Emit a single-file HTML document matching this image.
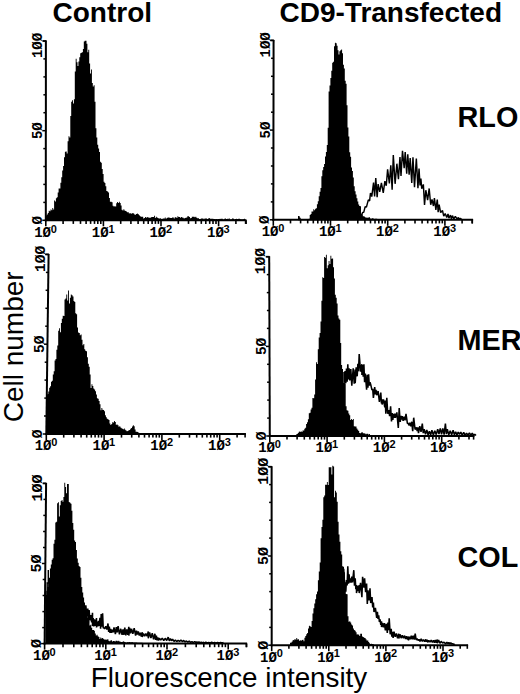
<!DOCTYPE html>
<html><head><meta charset="utf-8"><style>
html,body{margin:0;padding:0;background:#fff;}
svg{display:block;}
.tl{stroke:none;font-family:"Liberation Mono",monospace;font-weight:bold;font-size:14px;fill:#000;}
.ts{stroke:none;font-family:"Liberation Sans",sans-serif;font-weight:bold;font-size:11px;fill:#000;}
.big{font-family:"Liberation Sans",sans-serif;font-weight:bold;font-size:28px;fill:#000;}
.lab{font-family:"Liberation Sans",sans-serif;font-size:28px;fill:#000;}
</style></head><body>
<svg width="520" height="694" viewBox="0 0 520 694">
<rect width="520" height="694" fill="#fff"/>
<g id="hist">
<polygon points="46.00,220.50 46.00,215.52 46.90,215.52 46.90,214.60 47.80,214.60 47.80,213.02 48.70,213.02 48.70,210.68 49.60,210.68 49.60,211.13 50.50,211.13 50.50,209.58 51.40,209.58 51.40,210.18 52.30,210.18 52.30,208.03 53.20,208.03 53.20,209.51 54.10,209.51 54.10,200.57 55.00,200.57 55.00,201.56 55.90,201.56 55.90,198.30 56.80,198.30 56.80,197.29 57.70,197.29 57.70,192.57 58.60,192.57 58.60,188.41 59.50,188.41 59.50,188.56 60.40,188.56 60.40,182.83 61.30,182.83 61.30,177.30 62.20,177.30 62.20,170.51 63.10,170.51 63.10,166.11 64.00,166.11 64.00,157.24 64.90,157.24 64.90,151.81 65.80,151.81 65.80,151.51 66.70,151.51 66.70,153.45 67.60,153.45 67.60,141.20 68.50,141.20 68.50,136.23 69.40,136.23 69.40,137.49 70.30,137.49 70.30,116.04 71.20,116.04 71.20,101.77 72.10,101.77 72.10,100.29 73.00,100.29 73.00,103.47 73.90,103.47 73.90,99.28 74.80,99.28 74.80,71.39 75.70,71.39 75.70,58.68 76.60,58.68 76.60,62.13 77.50,62.13 77.50,65.88 78.40,65.88 78.40,61.45 79.30,61.45 79.30,57.25 80.20,57.25 80.20,53.22 81.10,53.22 81.10,52.78 82.00,52.78 82.00,52.14 82.90,52.14 82.90,49.05 83.80,49.05 83.80,41.52 84.70,41.52 84.70,40.80 85.60,40.80 85.60,40.80 86.50,40.80 86.50,43.70 87.40,43.70 87.40,52.27 88.30,52.27 88.30,49.72 89.20,49.72 89.20,63.53 90.10,63.53 90.10,73.54 91.00,73.54 91.00,69.46 91.90,69.46 91.90,82.92 92.80,82.92 92.80,86.54 93.70,86.54 93.70,85.15 94.60,85.15 94.60,101.63 95.50,101.63 95.50,128.25 96.40,128.25 96.40,137.46 97.30,137.46 97.30,144.71 98.20,144.71 98.20,148.54 99.10,148.54 99.10,152.07 100.00,152.07 100.00,161.68 100.90,161.68 100.90,162.67 101.80,162.67 101.80,169.00 102.70,169.00 102.70,174.00 103.60,174.00 103.60,181.70 104.50,181.70 104.50,183.05 105.40,183.05 105.40,186.24 106.30,186.24 106.30,191.10 107.20,191.10 107.20,191.41 108.10,191.41 108.10,192.50 109.00,192.50 109.00,198.10 109.90,198.10 109.90,201.76 110.80,201.76 110.80,201.80 111.70,201.80 111.70,202.28 112.60,202.28 112.60,205.85 113.50,205.85 113.50,206.57 114.40,206.57 114.40,206.30 115.30,206.30 115.30,206.51 116.20,206.51 116.20,203.20 117.10,203.20 117.10,202.01 118.00,202.01 118.00,203.04 118.90,203.04 118.90,201.70 119.80,201.70 119.80,202.96 120.70,202.96 120.70,205.47 121.60,205.47 121.60,209.83 122.50,209.83 122.50,210.38 123.40,210.38 123.40,209.33 124.30,209.33 124.30,210.44 125.20,210.44 125.20,210.89 126.10,210.89 126.10,211.52 127.00,211.52 127.00,212.13 127.90,212.13 127.90,212.21 128.80,212.21 128.80,213.49 129.70,213.49 129.70,212.94 130.60,212.94 130.60,213.68 131.50,213.68 131.50,213.62 132.40,213.62 132.40,213.03 133.30,213.03 133.30,213.58 134.20,213.58 134.20,214.43 135.10,214.43 135.10,214.85 136.00,214.85 136.00,213.88 136.90,213.88 136.90,213.56 137.80,213.56 137.80,213.90 138.70,213.90 138.70,215.08 139.60,215.08 139.60,215.97 140.50,215.97 140.50,216.86 141.40,216.86 141.40,216.70 142.30,216.70 142.30,216.85 143.20,216.85 143.20,218.38 144.10,218.38 144.10,217.92 145.00,217.92 145.00,216.94 145.90,216.94 145.90,217.81 146.80,217.81 146.80,217.00 147.70,217.00 147.70,217.61 148.60,217.61 148.60,217.44 149.50,217.44 149.50,218.02 150.40,218.02 150.40,217.39 151.30,217.39 151.30,217.10 152.20,217.10 152.20,217.09 153.10,217.09 153.10,216.99 154.00,216.99 154.00,215.84 154.90,215.84 154.90,217.96 155.80,217.96 155.80,216.71 156.70,216.71 156.70,217.44 157.60,217.44 157.60,218.00 158.50,218.00 158.50,218.57 159.40,218.57 159.40,218.43 160.30,218.43 160.30,218.36 161.20,218.36 161.20,219.11 162.10,219.11 162.10,218.81 163.00,218.81 163.00,218.49 163.90,218.49 163.90,218.59 164.80,218.59 164.80,217.60 165.70,217.60 165.70,218.74 166.60,218.74 166.60,218.11 167.50,218.11 167.50,217.44 168.40,217.44 168.40,217.56 169.30,217.56 169.30,217.70 170.20,217.70 170.20,218.06 171.10,218.06 171.10,217.98 172.00,217.98 172.00,217.46 172.90,217.46 172.90,217.44 173.80,217.44 173.80,218.53 174.70,218.53 174.70,217.26 175.60,217.26 175.60,217.21 176.50,217.21 176.50,217.96 177.40,217.96 177.40,216.25 178.30,216.25 178.30,217.07 179.20,217.07 179.20,217.10 180.10,217.10 180.10,217.67 181.00,217.67 181.00,216.99 181.90,216.99 181.90,217.38 182.80,217.38 182.80,217.82 183.70,217.82 183.70,218.51 184.60,218.51 184.60,218.06 185.50,218.06 185.50,217.85 186.40,217.85 186.40,217.45 187.30,217.45 187.30,216.32 188.20,216.32 188.20,216.23 189.10,216.23 189.10,216.96 190.00,216.96 190.00,218.32 190.90,218.32 190.90,218.05 191.80,218.05 191.80,216.78 192.70,216.78 192.70,216.75 193.60,216.75 193.60,216.87 194.50,216.87 194.50,217.23 195.40,217.23 195.40,216.72 196.30,216.72 196.30,217.85 197.20,217.85 197.20,218.23 198.10,218.23 198.10,218.23 199.00,218.23 199.00,218.98 199.90,218.98 199.90,219.04 200.80,219.04 200.80,218.49 201.70,218.49 201.70,218.57 202.60,218.57 202.60,218.43 203.50,218.43 203.50,219.42 204.40,219.42 204.40,218.45 205.30,218.45 205.30,218.57 206.20,218.57 206.20,218.38 207.10,218.38 207.10,218.99 208.00,218.99 208.00,218.53 208.90,218.53 208.90,218.00 209.80,218.00 209.80,218.85 210.70,218.85 210.70,218.82 211.60,218.82 211.60,218.69 212.50,218.69 212.50,218.80 213.40,218.80 213.40,218.89 214.30,218.89 214.30,218.94 215.20,218.94 215.20,219.25 216.10,219.25 216.10,219.09 217.00,219.09 217.00,219.22 217.90,219.22 217.90,219.10 218.80,219.10 218.80,219.04 219.70,219.04 219.70,218.80 220.60,218.80 220.60,218.88 221.50,218.88 221.50,218.38 222.40,218.38 222.40,219.31 223.30,219.31 223.30,219.67 224.20,219.67 224.20,218.86 225.10,218.86 225.10,218.55 226.00,218.55 226.00,219.04 226.90,219.04 226.90,218.81 227.80,218.81 227.80,219.28 228.70,219.28 228.70,218.34 229.60,218.34 229.60,219.55 230.50,219.55 230.50,219.49 231.40,219.49 231.40,219.13 232.30,219.13 232.30,218.20 233.20,218.20 233.20,218.87 234.10,218.87 234.10,219.56 235.00,219.56 235.00,219.06 235.90,219.06 235.90,218.69 236.80,218.69 236.80,219.08 237.70,219.08 237.70,219.04 238.60,219.04 238.60,218.60 239.50,218.60 239.50,219.03 240.40,219.03 240.40,219.40 241.30,219.40 241.30,219.41 242.20,219.41 242.20,219.45 243.10,219.45 243.10,219.21 244.00,219.21 244.00,218.86 244.90,218.86 244.90,219.09 245.00,219.09 245.00,220.50" fill="#000"/>
<polygon points="298.00,220.20 298.00,216.09 298.90,216.09 298.90,216.21 299.80,216.21 299.80,217.83 300.70,217.83 300.70,219.01 301.60,219.01 301.60,219.03 302.50,219.03 302.50,219.05 303.40,219.05 303.40,219.07 304.30,219.07 304.30,219.09 305.20,219.09 305.20,219.11 306.10,219.11 306.10,219.13 307.00,219.13 307.00,219.15 307.90,219.15 307.90,219.16 308.80,219.16 308.80,218.83 309.70,218.83 309.70,215.06 310.60,215.06 310.60,214.08 311.50,214.08 311.50,211.51 312.40,211.51 312.40,211.50 313.30,211.50 313.30,209.27 314.20,209.27 314.20,210.35 315.10,210.35 315.10,208.78 316.00,208.78 316.00,208.24 316.90,208.24 316.90,204.25 317.80,204.25 317.80,201.36 318.70,201.36 318.70,196.31 319.60,196.31 319.60,191.80 320.50,191.80 320.50,188.05 321.40,188.05 321.40,176.30 322.30,176.30 322.30,170.28 323.20,170.28 323.20,167.04 324.10,167.04 324.10,164.12 325.00,164.12 325.00,156.42 325.90,156.42 325.90,151.88 326.80,151.88 326.80,145.08 327.70,145.08 327.70,127.64 328.60,127.64 328.60,91.56 329.50,91.56 329.50,85.50 330.40,85.50 330.40,78.02 331.30,78.02 331.30,70.77 332.20,70.77 332.20,62.72 333.10,62.72 333.10,61.70 334.00,61.70 334.00,46.28 334.90,46.28 334.90,42.66 335.80,42.66 335.80,43.24 336.70,43.24 336.70,45.70 337.60,45.70 337.60,50.30 338.50,50.30 338.50,54.43 339.40,54.43 339.40,51.32 340.30,51.32 340.30,50.31 341.20,50.31 341.20,49.60 342.10,49.60 342.10,53.36 343.00,53.36 343.00,64.80 343.90,64.80 343.90,68.38 344.80,68.38 344.80,80.70 345.70,80.70 345.70,83.64 346.60,83.64 346.60,105.19 347.50,105.19 347.50,127.46 348.40,127.46 348.40,136.59 349.30,136.59 349.30,152.13 350.20,152.13 350.20,156.80 351.10,156.80 351.10,167.48 352.00,167.48 352.00,171.08 352.90,171.08 352.90,177.57 353.80,177.57 353.80,186.21 354.70,186.21 354.70,191.26 355.60,191.26 355.60,194.42 356.50,194.42 356.50,198.23 357.40,198.23 357.40,201.39 358.30,201.39 358.30,204.53 359.20,204.53 359.20,205.97 360.10,205.97 360.10,206.37 361.00,206.37 361.00,213.87 361.90,213.87 361.90,214.43 362.80,214.43 362.80,216.22 363.70,216.22 363.70,216.15 364.60,216.15 364.60,217.04 365.50,217.04 365.50,217.79 366.40,217.79 366.40,217.62 367.30,217.62 367.30,217.71 368.20,217.71 368.20,217.45 369.10,217.45 369.10,217.18 370.00,217.18 370.00,218.41 370.90,218.41 370.90,218.74 371.80,218.74 371.80,218.19 372.70,218.19 372.70,218.16 373.60,218.16 373.60,218.94 374.50,218.94 374.50,218.71 375.40,218.71 375.40,218.75 376.30,218.75 376.30,218.76 377.20,218.76 377.20,218.94 378.10,218.94 378.10,219.12 379.00,219.12 379.00,219.30 379.90,219.30 379.90,219.48 380.00,219.48 380.00,220.20" fill="#000"/>
<polyline points="360.00,216.57 360.87,217.13 362.58,212.47 363.73,212.35 365.16,206.67 366.44,207.12 368.32,199.94 369.61,200.87 370.46,193.03 371.77,196.60 373.55,182.55 374.61,196.38 375.77,178.00 377.14,197.19 378.14,184.06 379.74,191.77 381.41,182.92 383.26,192.82 384.88,181.10 386.26,185.70 387.61,169.37 389.38,183.39 390.80,165.30 392.14,189.73 393.30,154.94 395.09,183.82 396.88,163.69 398.45,179.26 399.97,157.06 401.00,175.97 402.49,150.72 404.18,168.19 405.20,152.01 406.71,173.71 407.77,154.19 409.14,174.75 410.18,158.16 411.76,182.91 412.97,157.22 414.50,187.13 416.34,158.59 417.94,188.29 419.03,168.66 420.04,185.49 420.89,178.59 421.74,188.79 423.35,184.38 424.53,205.00 425.82,190.22 427.61,200.08 429.18,188.45 430.70,204.78 432.00,199.46 433.44,205.99 434.40,198.14 435.87,209.79 437.28,199.52 438.15,212.15 439.13,204.62 440.63,212.61 442.45,210.45 443.74,216.17 445.19,213.60 446.76,217.47 448.03,214.02 448.88,218.06 450.47,215.12 451.39,218.73 452.45,215.61 453.82,218.94 455.32,216.33 457.11,218.90 458.39,217.64 459.26,219.23 460.26,218.41 461.94,219.49" fill="none" stroke="#000" stroke-width="1.45" stroke-linejoin="bevel"/>
<polygon points="46.50,434.50 46.50,394.65 47.40,394.65 47.40,394.07 48.30,394.07 48.30,391.47 49.20,391.47 49.20,387.80 50.10,387.80 50.10,386.14 51.00,386.14 51.00,381.77 51.90,381.77 51.90,380.68 52.80,380.68 52.80,374.62 53.70,374.62 53.70,371.19 54.60,371.19 54.60,360.56 55.50,360.56 55.50,358.88 56.40,358.88 56.40,349.81 57.30,349.81 57.30,345.62 58.20,345.62 58.20,330.71 59.10,330.71 59.10,328.15 60.00,328.15 60.00,332.14 60.90,332.14 60.90,323.05 61.80,323.05 61.80,318.63 62.70,318.63 62.70,315.65 63.60,315.65 63.60,316.01 64.50,316.01 64.50,299.58 65.40,299.58 65.40,298.60 66.30,298.60 66.30,294.54 67.20,294.54 67.20,300.62 68.10,300.62 68.10,290.50 69.00,290.50 69.00,303.60 69.90,303.60 69.90,297.75 70.80,297.75 70.80,294.51 71.70,294.51 71.70,295.17 72.60,295.17 72.60,296.39 73.50,296.39 73.50,301.05 74.40,301.05 74.40,301.89 75.30,301.89 75.30,313.25 76.20,313.25 76.20,314.13 77.10,314.13 77.10,327.43 78.00,327.43 78.00,332.61 78.90,332.61 78.90,332.94 79.80,332.94 79.80,335.18 80.70,335.18 80.70,334.40 81.60,334.40 81.60,339.78 82.50,339.78 82.50,345.14 83.40,345.14 83.40,344.10 84.30,344.10 84.30,349.23 85.20,349.23 85.20,350.72 86.10,350.72 86.10,351.31 87.00,351.31 87.00,357.24 87.90,357.24 87.90,363.68 88.80,363.68 88.80,366.69 89.70,366.69 89.70,374.56 90.60,374.56 90.60,388.04 91.50,388.04 91.50,384.33 92.40,384.33 92.40,386.03 93.30,386.03 93.30,388.57 94.20,388.57 94.20,389.50 95.10,389.50 95.10,391.31 96.00,391.31 96.00,394.38 96.90,394.38 96.90,398.30 97.80,398.30 97.80,398.87 98.70,398.87 98.70,401.03 99.60,401.03 99.60,404.19 100.50,404.19 100.50,410.34 101.40,410.34 101.40,408.03 102.30,408.03 102.30,409.85 103.20,409.85 103.20,409.88 104.10,409.88 104.10,411.37 105.00,411.37 105.00,415.23 105.90,415.23 105.90,417.21 106.80,417.21 106.80,418.67 107.70,418.67 107.70,419.22 108.60,419.22 108.60,420.07 109.50,420.07 109.50,423.42 110.40,423.42 110.40,425.12 111.30,425.12 111.30,423.99 112.20,423.99 112.20,422.17 113.10,422.17 113.10,422.49 114.00,422.49 114.00,421.09 114.90,421.09 114.90,421.93 115.80,421.93 115.80,424.79 116.70,424.79 116.70,424.62 117.60,424.62 117.60,425.27 118.50,425.27 118.50,426.67 119.40,426.67 119.40,426.23 120.30,426.23 120.30,427.60 121.20,427.60 121.20,428.19 122.10,428.19 122.10,428.87 123.00,428.87 123.00,429.24 123.90,429.24 123.90,428.40 124.80,428.40 124.80,429.72 125.70,429.72 125.70,430.49 126.60,430.49 126.60,431.34 127.50,431.34 127.50,431.11 128.40,431.11 128.40,430.13 129.30,430.13 129.30,429.94 130.20,429.94 130.20,428.74 131.10,428.74 131.10,428.01 132.00,428.01 132.00,426.54 132.90,426.54 132.90,425.29 133.80,425.29 133.80,426.14 134.70,426.14 134.70,429.38 135.60,429.38 135.60,431.78 136.50,431.78 136.50,431.64 137.40,431.64 137.40,432.01 138.30,432.01 138.30,432.78 139.20,432.78 139.20,433.13 140.10,433.13 140.10,433.10 141.00,433.10 141.00,433.11 141.90,433.11 141.90,432.96 142.80,432.96 142.80,433.04 143.70,433.04 143.70,433.11 144.60,433.11 144.60,433.18 145.50,433.18 145.50,433.25 146.40,433.25 146.40,433.31 147.30,433.31 147.30,433.34 148.20,433.34 148.20,433.37 149.10,433.37 149.10,433.40 150.00,433.40 150.00,433.43 150.90,433.43 150.90,433.46 151.80,433.46 151.80,433.49 152.70,433.49 152.70,433.53 153.60,433.53 153.60,433.56 154.50,433.56 154.50,433.59 155.40,433.59 155.40,433.62 156.30,433.62 156.30,433.65 157.20,433.65 157.20,433.68 158.10,433.68 158.10,433.70 159.00,433.70 159.00,433.71 159.90,433.71 159.90,433.72 160.80,433.72 160.80,433.72 161.70,433.72 161.70,433.73 162.60,433.73 162.60,433.73 163.50,433.73 163.50,433.74 164.40,433.74 164.40,433.75 165.30,433.75 165.30,433.75 166.20,433.75 166.20,433.76 167.10,433.76 167.10,433.77 168.00,433.77 168.00,433.77 168.90,433.77 168.90,433.78 169.80,433.78 169.80,433.79 170.70,433.79 170.70,433.79 171.60,433.79 171.60,433.80 172.50,433.80 172.50,433.80 173.40,433.80 173.40,433.81 174.30,433.81 174.30,433.82 175.20,433.82 175.20,433.82 176.10,433.82 176.10,433.83 177.00,433.83 177.00,433.84 177.90,433.84 177.90,433.84 178.80,433.84 178.80,433.85 179.70,433.85 179.70,433.86 180.60,433.86 180.60,433.86 181.50,433.86 181.50,433.87 182.40,433.87 182.40,433.88 183.30,433.88 183.30,433.88 184.20,433.88 184.20,433.89 185.10,433.89 185.10,433.89 186.00,433.89 186.00,433.90 186.90,433.90 186.90,433.91 187.80,433.91 187.80,433.91 188.70,433.91 188.70,433.92 189.60,433.92 189.60,433.93 190.50,433.93 190.50,433.93 191.40,433.93 191.40,433.94 192.30,433.94 192.30,433.95 193.20,433.95 193.20,433.95 194.10,433.95 194.10,433.96 195.00,433.96 195.00,433.96 195.90,433.96 195.90,433.97 196.80,433.97 196.80,433.98 197.70,433.98 197.70,433.98 198.60,433.98 198.60,433.99 199.50,433.99 199.50,434.00 200.00,434.00 200.00,434.50" fill="#000"/>
<polygon points="296.20,436.00 296.20,434.30 297.10,434.30 297.10,433.77 298.00,433.77 298.00,432.79 298.90,432.79 298.90,431.49 299.80,431.49 299.80,432.09 300.70,432.09 300.70,431.37 301.60,431.37 301.60,432.02 302.50,432.02 302.50,430.46 303.40,430.46 303.40,430.42 304.30,430.42 304.30,428.69 305.20,428.69 305.20,427.83 306.10,427.83 306.10,423.90 307.00,423.90 307.00,422.35 307.90,422.35 307.90,419.31 308.80,419.31 308.80,413.26 309.70,413.26 309.70,412.69 310.60,412.69 310.60,409.48 311.50,409.48 311.50,407.72 312.40,407.72 312.40,397.91 313.30,397.91 313.30,398.22 314.20,398.22 314.20,394.60 315.10,394.60 315.10,379.40 316.00,379.40 316.00,362.22 316.90,362.22 316.90,364.06 317.80,364.06 317.80,349.25 318.70,349.25 318.70,337.44 319.60,337.44 319.60,333.01 320.50,333.01 320.50,321.60 321.40,321.60 321.40,300.76 322.30,300.76 322.30,277.30 323.20,277.30 323.20,277.96 324.10,277.96 324.10,257.06 325.00,257.06 325.00,257.64 325.90,257.64 325.90,254.80 326.80,254.80 326.80,268.16 327.70,268.16 327.70,265.26 328.60,265.26 328.60,260.90 329.50,260.90 329.50,264.11 330.40,264.11 330.40,255.76 331.30,255.76 331.30,258.64 332.20,258.64 332.20,258.53 333.10,258.53 333.10,267.30 334.00,267.30 334.00,278.60 334.90,278.60 334.90,294.75 335.80,294.75 335.80,297.72 336.70,297.72 336.70,303.40 337.60,303.40 337.60,315.42 338.50,315.42 338.50,318.42 339.40,318.42 339.40,319.81 340.30,319.81 340.30,342.88 341.20,342.88 341.20,364.91 342.10,364.91 342.10,369.00 343.00,369.00 343.00,382.99 343.90,382.99 343.90,382.70 344.80,382.70 344.80,383.20 345.70,383.20 345.70,406.34 346.60,406.34 346.60,410.26 347.50,410.26 347.50,410.63 348.40,410.63 348.40,413.56 349.30,413.56 349.30,415.28 350.20,415.28 350.20,420.11 351.10,420.11 351.10,419.00 352.00,419.00 352.00,419.92 352.90,419.92 352.90,419.00 353.80,419.00 353.80,426.13 354.70,426.13 354.70,426.61 355.60,426.61 355.60,426.44 356.50,426.44 356.50,428.42 357.40,428.42 357.40,429.77 358.30,429.77 358.30,431.08 359.20,431.08 359.20,432.92 360.10,432.92 360.10,433.24 361.00,433.24 361.00,432.39 361.90,432.39 361.90,432.20 362.80,432.20 362.80,433.36 363.70,433.36 363.70,433.33 364.60,433.33 364.60,433.62 365.50,433.62 365.50,434.29 366.40,434.29 366.40,433.67 367.30,433.67 367.30,433.86 368.20,433.86 368.20,434.39 369.10,434.39 369.10,434.10 370.00,434.10 370.00,434.60 370.00,434.60 370.00,436.00" fill="#000"/>
<polyline points="344.00,372.00 344.00,384.00 345.10,371.00 345.80,383.10 346.47,368.63 347.13,381.69 347.80,364.20 348.45,379.52 349.10,368.30 349.80,380.40 350.80,368.99 351.80,385.80 353.20,368.30 354.20,383.60 355.20,369.60 355.20,383.10 356.20,367.41 357.20,376.30 357.87,363.91 358.53,371.31 359.20,354.10 360.55,371.65 361.90,364.20 361.90,375.00 362.57,365.06 363.23,376.78 363.90,364.20 364.60,382.29 365.30,373.60 366.60,389.80 367.27,374.79 367.93,387.60 368.60,374.30 369.30,385.69 370.00,382.16 370.70,384.40 371.30,387.10 372.00,389.96 372.70,388.87 373.40,397.90 374.70,387.10 375.35,394.42 376.00,389.80 376.70,395.20 378.10,391.10 379.40,401.90 380.80,392.50 381.45,403.48 382.10,399.20 382.10,404.60 383.45,399.49 384.80,407.30 385.30,400.62 385.80,413.80 386.80,397.90 387.75,413.69 388.70,410.00 389.65,416.21 390.60,406.20 391.50,421.50 392.17,413.09 392.83,419.99 393.50,413.80 394.13,417.89 394.77,413.70 395.40,417.70 396.85,412.33 398.30,428.00 399.20,408.10 400.20,421.93 401.20,415.80 401.20,419.60 402.16,416.10 403.12,420.90 404.08,416.62 405.04,420.37 406.00,413.80 407.40,423.40 408.80,423.50 408.80,425.40 409.77,422.75 410.75,426.36 411.73,421.71 412.70,431.20 413.70,417.70 415.10,429.48 416.50,427.30 417.17,431.19 417.83,427.41 418.50,433.10 419.77,426.18 421.03,431.94 422.30,423.50 423.25,433.05 424.20,429.20 425.50,434.24 426.80,430.01 428.10,435.00 429.37,431.12 430.63,434.96 431.90,430.20 433.35,434.98 434.80,430.71 436.25,434.61 437.70,429.20 438.98,434.01 440.27,428.41 441.55,434.24 442.83,428.32 444.12,434.54 445.40,423.50 446.35,434.10 447.30,429.20 448.75,434.87 450.20,430.75 451.65,434.81 453.10,430.20 454.38,434.77 455.67,431.83 456.95,434.90 458.23,432.11 459.52,434.37 460.80,432.10 462.24,435.26 463.68,432.41 465.11,435.19 466.55,433.24 467.99,434.92 469.43,433.03 470.86,435.20 472.30,433.10 473.53,435.37 474.77,434.19 476.00,435.50" fill="none" stroke="#000" stroke-width="1.55" stroke-linejoin="bevel"/>
<polygon points="45.40,644.00 45.40,594.42 46.30,594.42 46.30,590.82 47.20,590.82 47.20,586.88 48.10,586.88 48.10,581.96 49.00,581.96 49.00,577.79 49.90,577.79 49.90,568.60 50.80,568.60 50.80,564.59 51.70,564.59 51.70,559.69 52.60,559.69 52.60,558.15 53.50,558.15 53.50,543.84 54.40,543.84 54.40,539.84 55.30,539.84 55.30,522.49 56.20,522.49 56.20,521.85 57.10,521.85 57.10,503.32 58.00,503.32 58.00,502.30 58.90,502.30 58.90,516.51 59.80,516.51 59.80,505.27 60.70,505.27 60.70,500.95 61.60,500.95 61.60,500.09 62.50,500.09 62.50,501.81 63.40,501.81 63.40,497.10 64.30,497.10 64.30,482.70 65.20,482.70 65.20,486.92 66.10,486.92 66.10,493.36 67.00,493.36 67.00,484.10 67.90,484.10 67.90,484.10 68.80,484.10 68.80,502.10 69.70,502.10 69.70,502.74 70.60,502.74 70.60,503.76 71.50,503.76 71.50,510.87 72.40,510.87 72.40,522.95 73.30,522.95 73.30,529.86 74.20,529.86 74.20,540.58 75.10,540.58 75.10,542.09 76.00,542.09 76.00,549.96 76.90,549.96 76.90,558.48 77.80,558.48 77.80,562.80 78.70,562.80 78.70,566.03 79.60,566.03 79.60,567.09 80.50,567.09 80.50,577.78 81.40,577.78 81.40,586.94 82.30,586.94 82.30,592.52 83.20,592.52 83.20,597.55 84.10,597.55 84.10,602.44 85.00,602.44 85.00,605.91 85.90,605.91 85.90,609.47 86.80,609.47 86.80,615.44 87.70,615.44 87.70,617.93 88.60,617.93 88.60,621.26 89.50,621.26 89.50,625.47 90.40,625.47 90.40,624.87 91.30,624.87 91.30,627.81 92.20,627.81 92.20,629.99 93.10,629.99 93.10,629.96 94.00,629.96 94.00,630.80 94.90,630.80 94.90,633.61 95.80,633.61 95.80,635.50 96.70,635.50 96.70,634.76 97.60,634.76 97.60,636.36 98.50,636.36 98.50,636.95 99.40,636.95 99.40,638.98 100.30,638.98 100.30,637.42 101.20,637.42 101.20,638.61 102.10,638.61 102.10,638.05 103.00,638.05 103.00,638.63 103.90,638.63 103.90,639.53 104.80,639.53 104.80,639.51 105.70,639.51 105.70,639.75 106.60,639.75 106.60,639.52 107.50,639.52 107.50,639.15 108.40,639.15 108.40,640.73 109.30,640.73 109.30,641.16 110.20,641.16 110.20,640.41 111.10,640.41 111.10,640.34 112.00,640.34 112.00,641.38 112.90,641.38 112.90,641.04 113.80,641.04 113.80,641.03 114.70,641.03 114.70,641.47 115.60,641.47 115.60,640.66 116.50,640.66 116.50,640.77 117.40,640.77 117.40,641.33 118.30,641.33 118.30,640.82 119.20,640.82 119.20,641.47 120.10,641.47 120.10,641.65 121.00,641.65 121.00,641.89 121.90,641.89 121.90,641.95 122.80,641.95 122.80,641.18 123.70,641.18 123.70,641.82 124.60,641.82 124.60,642.12 125.50,642.12 125.50,642.48 126.40,642.48 126.40,642.55 127.30,642.55 127.30,642.12 128.20,642.12 128.20,642.24 129.10,642.24 129.10,641.93 130.00,641.93 130.00,642.24 130.90,642.24 130.90,642.16 131.80,642.16 131.80,642.01 132.70,642.01 132.70,642.42 133.60,642.42 133.60,642.51 134.50,642.51 134.50,642.55 135.40,642.55 135.40,642.59 136.30,642.59 136.30,642.62 137.20,642.62 137.20,642.66 138.10,642.66 138.10,642.70 139.00,642.70 139.00,642.74 139.90,642.74 139.90,642.78 140.80,642.78 140.80,642.82 141.70,642.82 141.70,642.86 142.60,642.86 142.60,642.90 143.50,642.90 143.50,642.94 144.40,642.94 144.40,642.97 145.00,642.97 145.00,644.00" fill="#000"/>
<polyline points="82.00,598.00 82.00,608.00 83.10,601.90 84.45,611.50 85.80,605.30 86.80,615.86 87.80,608.60 88.50,622.10 89.10,610.00 89.95,620.48 90.80,615.04 91.65,622.31 92.50,612.70 92.50,626.10 93.17,618.09 93.83,626.48 94.50,619.40 95.50,625.98 96.50,618.10 96.50,627.50 97.20,621.47 97.90,626.38 98.60,620.80 99.27,625.86 99.93,617.70 100.60,628.80 101.20,614.00 101.90,626.68 102.60,613.40 103.25,628.18 103.90,627.50 104.60,628.80 105.73,626.36 106.87,629.50 108.00,623.50 108.67,631.86 109.33,626.53 110.00,632.90 110.70,628.80 111.53,632.87 112.35,629.61 113.17,632.32 114.00,627.50 115.40,634.20 116.30,627.08 117.20,632.48 118.10,626.10 119.45,634.32 120.80,628.80 122.10,634.90 123.00,629.36 123.90,634.81 124.80,627.50 125.80,635.28 126.80,629.30 127.80,634.96 128.80,626.80 128.80,635.60 129.70,627.99 130.60,633.40 131.50,628.80 132.85,633.74 134.20,628.20 135.60,635.60 136.50,630.55 137.40,634.46 138.30,631.50 139.30,635.57 140.30,632.80 141.30,636.42 142.30,632.20 142.30,636.90 143.50,633.50 144.70,636.28 145.90,633.49 147.10,636.25 148.30,631.50 148.30,638.20 149.62,632.55 150.94,638.16 152.26,633.19 153.58,639.25 154.90,633.80 155.63,639.93 156.37,635.71 157.10,640.40 157.83,637.40 158.57,640.49 159.30,638.20 160.78,640.09 162.27,638.13 163.75,640.51 165.23,638.31 166.72,640.45 168.20,637.10 169.30,640.81 170.40,638.63 171.50,640.74 172.60,639.30 173.99,641.39 175.38,640.14 176.76,641.58 178.15,640.26 179.54,641.31 180.92,640.13 182.31,641.53 183.70,640.40 185.07,641.92 186.45,640.94 187.82,642.26 189.20,640.97 190.57,642.36 191.95,641.59 193.32,642.52 194.70,641.50 195.76,642.48 196.82,641.96 197.88,642.54 198.94,641.89 200.00,643.00 201.16,642.03 202.32,642.86 203.48,642.28 204.64,643.02 205.80,642.20 207.28,642.89 208.75,642.47 210.23,642.90 211.70,642.34 213.18,642.92 214.65,642.42 216.12,643.10 217.60,642.60 219.07,643.01 220.55,642.60 222.03,643.05 223.50,642.60" fill="none" stroke="#000" stroke-width="1.55" stroke-linejoin="bevel"/>
<polyline points="47.2,594 47.2,583 48.3,583 48.3,570" fill="none" stroke="#000" stroke-width="1.4"/>
<polygon points="290.00,645.20 290.00,642.87 290.90,642.87 290.90,642.43 291.80,642.43 291.80,641.52 292.70,641.52 292.70,639.91 293.60,639.91 293.60,640.18 294.50,640.18 294.50,639.11 295.40,639.11 295.40,639.65 296.30,639.65 296.30,638.12 297.20,638.12 297.20,639.44 298.10,639.44 298.10,639.29 299.00,639.29 299.00,640.87 299.90,640.87 299.90,640.22 300.80,640.22 300.80,640.74 301.70,640.74 301.70,640.00 302.60,640.00 302.60,639.79 303.50,639.79 303.50,641.21 304.40,641.21 304.40,637.66 305.30,637.66 305.30,636.12 306.20,636.12 306.20,634.17 307.10,634.17 307.10,632.97 308.00,632.97 308.00,628.57 308.90,628.57 308.90,625.81 309.80,625.81 309.80,626.17 310.70,626.17 310.70,627.07 311.60,627.07 311.60,621.00 312.50,621.00 312.50,613.44 313.40,613.44 313.40,608.23 314.30,608.23 314.30,603.43 315.20,603.43 315.20,599.34 316.10,599.34 316.10,594.32 317.00,594.32 317.00,591.49 317.90,591.49 317.90,580.27 318.80,580.27 318.80,571.39 319.70,571.39 319.70,562.47 320.60,562.47 320.60,538.20 321.50,538.20 321.50,526.94 322.40,526.94 322.40,519.78 323.30,519.78 323.30,497.23 324.20,497.23 324.20,495.60 325.10,495.60 325.10,484.80 326.00,484.80 326.00,484.69 326.90,484.69 326.90,482.10 327.80,482.10 327.80,485.00 328.70,485.00 328.70,467.20 329.60,467.20 329.60,467.20 330.50,467.20 330.50,467.20 331.40,467.20 331.40,474.59 332.30,474.59 332.30,465.70 333.20,465.70 333.20,466.58 334.10,466.58 334.10,497.23 335.00,497.23 335.00,490.70 335.90,490.70 335.90,492.61 336.80,492.61 336.80,501.82 337.70,501.82 337.70,521.70 338.60,521.70 338.60,534.41 339.50,534.41 339.50,541.64 340.40,541.64 340.40,551.26 341.30,551.26 341.30,554.40 342.20,554.40 342.20,566.33 343.10,566.33 343.10,566.75 344.00,566.75 344.00,572.24 344.90,572.24 344.90,585.16 345.80,585.16 345.80,593.89 346.70,593.89 346.70,594.26 347.60,594.26 347.60,616.22 348.50,616.22 348.50,621.77 349.40,621.77 349.40,621.24 350.30,621.24 350.30,622.47 351.20,622.47 351.20,624.52 352.10,624.52 352.10,625.59 353.00,625.59 353.00,628.55 353.90,628.55 353.90,630.01 354.80,630.01 354.80,630.75 355.70,630.75 355.70,632.31 356.60,632.31 356.60,634.62 357.50,634.62 357.50,634.36 358.40,634.36 358.40,634.72 359.30,634.72 359.30,635.94 360.20,635.94 360.20,633.72 361.10,633.72 361.10,633.76 362.00,633.76 362.00,636.50 362.90,636.50 362.90,636.94 363.80,636.94 363.80,637.87 364.70,637.87 364.70,638.04 365.60,638.04 365.60,639.16 366.50,639.16 366.50,640.39 367.40,640.39 367.40,640.49 368.30,640.49 368.30,642.12 369.20,642.12 369.20,643.23 370.10,643.23 370.10,643.98 371.00,643.98 371.00,643.75 371.90,643.75 371.90,643.97 372.80,643.97 372.80,644.20 373.70,644.20 373.70,644.42 374.00,644.42 374.00,645.20" fill="#000"/>
<polyline points="343.00,570.00 343.00,590.00 343.70,568.80 344.75,587.37 345.80,582.30 345.80,591.70 346.47,580.08 347.13,585.35 347.80,566.20 348.50,583.60 349.10,574.20 349.80,582.63 350.50,578.30 351.17,582.73 351.83,576.52 352.50,582.30 353.80,570.20 354.50,585.80 355.20,578.30 355.85,589.14 356.50,585.00 356.50,593.10 357.40,585.91 358.30,591.23 359.20,585.00 359.20,593.10 360.55,582.87 361.90,597.10 362.60,576.90 363.90,587.70 364.60,578.30 365.60,592.27 366.60,583.60 367.30,604.00 368.00,590.40 369.00,600.41 370.00,588.40 370.70,603.00 372.00,597.10 372.70,607.38 373.40,602.50 374.00,612.00 375.40,607.90 376.70,618.00 377.40,611.90 378.05,618.97 378.70,615.40 379.40,622.00 380.10,619.40 380.80,625.01 381.50,621.20 381.50,627.00 382.47,622.86 383.43,627.42 384.40,623.10 385.37,630.29 386.33,623.78 387.30,633.00 387.93,622.44 388.57,630.25 389.20,618.30 390.20,634.30 391.20,628.80 391.83,636.70 392.47,631.87 393.10,638.00 394.00,631.70 395.20,636.74 396.40,633.45 397.60,638.25 398.80,633.70 398.80,638.50 399.96,634.35 401.12,638.10 402.28,635.22 403.44,638.21 404.60,635.60 405.58,639.12 406.55,636.29 407.52,639.44 408.50,636.50 408.50,640.40 409.43,636.66 410.37,639.25 411.30,635.60 412.27,639.18 413.25,635.60 414.23,639.56 415.20,633.70 416.15,639.97 417.10,638.50 418.07,640.53 419.03,639.44 420.00,641.30 421.16,638.94 422.32,641.32 423.48,639.63 424.64,641.66 425.80,639.40 426.43,641.67 427.07,639.64 427.70,642.30 428.86,640.49 430.02,642.13 431.18,640.19 432.34,642.28 433.50,640.40 434.45,642.74 435.40,640.09 436.35,642.69 437.30,639.40 437.30,643.30 438.60,640.17 439.90,643.30 441.20,641.30 442.62,643.12 444.05,642.21 445.47,643.86 446.90,642.30 447.88,643.65 448.85,642.51 449.82,644.01 450.80,642.70 451.75,643.97 452.70,643.62 453.65,644.38 454.60,644.20 454.60,644.50" fill="none" stroke="#000" stroke-width="1.55" stroke-linejoin="bevel"/>
</g>
<g stroke="#000" fill="none">
<line x1="45.8" y1="221.3" x2="45.9" y2="40.5" stroke-width="2.0"/>
<line x1="42.9" y1="41.0" x2="46.4" y2="41.0" stroke-width="1.6"/>
<line x1="42.3" y1="220.3" x2="45.8" y2="220.3" stroke-width="1.5"/>
<line x1="43.3" y1="202.4" x2="45.8" y2="202.4" stroke-width="1.5"/>
<line x1="43.3" y1="184.4" x2="45.8" y2="184.4" stroke-width="1.5"/>
<line x1="43.3" y1="166.5" x2="45.8" y2="166.5" stroke-width="1.5"/>
<line x1="43.3" y1="148.6" x2="45.8" y2="148.6" stroke-width="1.5"/>
<line x1="42.3" y1="130.7" x2="45.8" y2="130.7" stroke-width="1.5"/>
<line x1="43.4" y1="112.7" x2="45.9" y2="112.7" stroke-width="1.5"/>
<line x1="43.4" y1="94.8" x2="45.9" y2="94.8" stroke-width="1.5"/>
<line x1="43.4" y1="76.9" x2="45.9" y2="76.9" stroke-width="1.5"/>
<line x1="43.4" y1="58.9" x2="45.9" y2="58.9" stroke-width="1.5"/>
<line x1="42.4" y1="41.0" x2="45.9" y2="41.0" stroke-width="1.5"/>
<line x1="44.8" y1="220.3" x2="246.4" y2="220.3" stroke-width="2.0"/>
<line x1="45.8" y1="220.3" x2="45.8" y2="226.3" stroke-width="1.6"/>
<line x1="63.1" y1="220.3" x2="63.1" y2="223.9" stroke-width="1.6"/>
<line x1="73.3" y1="220.3" x2="73.3" y2="223.9" stroke-width="1.6"/>
<line x1="80.5" y1="220.3" x2="80.5" y2="223.9" stroke-width="1.6"/>
<line x1="86.1" y1="220.3" x2="86.1" y2="223.9" stroke-width="1.6"/>
<line x1="90.6" y1="220.3" x2="90.6" y2="223.9" stroke-width="1.6"/>
<line x1="94.5" y1="220.3" x2="94.5" y2="223.9" stroke-width="1.6"/>
<line x1="97.8" y1="220.3" x2="97.8" y2="223.9" stroke-width="1.6"/>
<line x1="100.8" y1="220.3" x2="100.8" y2="223.9" stroke-width="1.6"/>
<line x1="103.4" y1="220.3" x2="103.4" y2="226.3" stroke-width="1.6"/>
<line x1="120.7" y1="220.3" x2="120.7" y2="223.9" stroke-width="1.6"/>
<line x1="130.9" y1="220.3" x2="130.9" y2="223.9" stroke-width="1.6"/>
<line x1="138.1" y1="220.3" x2="138.1" y2="223.9" stroke-width="1.6"/>
<line x1="143.7" y1="220.3" x2="143.7" y2="223.9" stroke-width="1.6"/>
<line x1="148.2" y1="220.3" x2="148.2" y2="223.9" stroke-width="1.6"/>
<line x1="152.1" y1="220.3" x2="152.1" y2="223.9" stroke-width="1.6"/>
<line x1="155.4" y1="220.3" x2="155.4" y2="223.9" stroke-width="1.6"/>
<line x1="158.4" y1="220.3" x2="158.4" y2="223.9" stroke-width="1.6"/>
<line x1="161.0" y1="220.3" x2="161.0" y2="226.3" stroke-width="1.6"/>
<line x1="178.3" y1="220.3" x2="178.3" y2="223.9" stroke-width="1.6"/>
<line x1="188.5" y1="220.3" x2="188.5" y2="223.9" stroke-width="1.6"/>
<line x1="195.7" y1="220.3" x2="195.7" y2="223.9" stroke-width="1.6"/>
<line x1="201.3" y1="220.3" x2="201.3" y2="223.9" stroke-width="1.6"/>
<line x1="205.8" y1="220.3" x2="205.8" y2="223.9" stroke-width="1.6"/>
<line x1="209.7" y1="220.3" x2="209.7" y2="223.9" stroke-width="1.6"/>
<line x1="213.0" y1="220.3" x2="213.0" y2="223.9" stroke-width="1.6"/>
<line x1="216.0" y1="220.3" x2="216.0" y2="223.9" stroke-width="1.6"/>
<line x1="218.6" y1="220.3" x2="218.6" y2="226.3" stroke-width="1.6"/>
<line x1="235.9" y1="220.3" x2="235.9" y2="223.9" stroke-width="1.6"/>
<line x1="246.1" y1="220.3" x2="246.1" y2="223.9" stroke-width="1.6"/>
<line x1="245.6" y1="219.8" x2="245.6" y2="223.9" stroke-width="1.6"/>
<text x="34.2" y="236.6" class="tl" >1Ø</text>
<text x="50.8" y="232.5" class="ts" >0</text>
<text x="91.8" y="236.6" class="tl" >1Ø</text>
<text x="108.4" y="232.5" class="ts" >1</text>
<text x="149.4" y="236.6" class="tl" >1Ø</text>
<text x="166.0" y="232.5" class="ts" >2</text>
<text x="207.0" y="236.6" class="tl" >1Ø</text>
<text x="223.6" y="232.5" class="ts" >3</text>
<text class="tl" style="font-size:14px" text-anchor="middle" transform="translate(41.8,220.3) rotate(-90)" y="0">Ø</text>
<text class="tl" style="font-size:14px" text-anchor="middle" transform="translate(41.8,130.7) rotate(-90)" y="0">5Ø</text>
<text class="tl" style="font-size:14px" text-anchor="middle" transform="translate(41.9,45.5) rotate(-90)" y="0">1ØØ</text>
<line x1="273.3" y1="220.8" x2="273.6" y2="39.9" stroke-width="2.0"/>
<line x1="270.6" y1="40.4" x2="274.1" y2="40.4" stroke-width="1.6"/>
<line x1="269.8" y1="219.8" x2="273.3" y2="219.8" stroke-width="1.5"/>
<line x1="270.8" y1="201.9" x2="273.3" y2="201.9" stroke-width="1.5"/>
<line x1="270.9" y1="183.9" x2="273.4" y2="183.9" stroke-width="1.5"/>
<line x1="270.9" y1="166.0" x2="273.4" y2="166.0" stroke-width="1.5"/>
<line x1="270.9" y1="148.0" x2="273.4" y2="148.0" stroke-width="1.5"/>
<line x1="270.0" y1="130.1" x2="273.5" y2="130.1" stroke-width="1.5"/>
<line x1="271.0" y1="112.2" x2="273.5" y2="112.2" stroke-width="1.5"/>
<line x1="271.0" y1="94.2" x2="273.5" y2="94.2" stroke-width="1.5"/>
<line x1="271.0" y1="76.3" x2="273.5" y2="76.3" stroke-width="1.5"/>
<line x1="271.1" y1="58.3" x2="273.6" y2="58.3" stroke-width="1.5"/>
<line x1="270.1" y1="40.4" x2="273.6" y2="40.4" stroke-width="1.5"/>
<line x1="272.3" y1="219.8" x2="473.1" y2="219.8" stroke-width="2.0"/>
<line x1="273.3" y1="219.8" x2="273.3" y2="225.8" stroke-width="1.6"/>
<line x1="290.5" y1="219.8" x2="290.5" y2="223.4" stroke-width="1.6"/>
<line x1="300.6" y1="219.8" x2="300.6" y2="223.4" stroke-width="1.6"/>
<line x1="307.7" y1="219.8" x2="307.7" y2="223.4" stroke-width="1.6"/>
<line x1="313.3" y1="219.8" x2="313.3" y2="223.4" stroke-width="1.6"/>
<line x1="317.8" y1="219.8" x2="317.8" y2="223.4" stroke-width="1.6"/>
<line x1="321.6" y1="219.8" x2="321.6" y2="223.4" stroke-width="1.6"/>
<line x1="325.0" y1="219.8" x2="325.0" y2="223.4" stroke-width="1.6"/>
<line x1="327.9" y1="219.8" x2="327.9" y2="223.4" stroke-width="1.6"/>
<line x1="330.5" y1="219.8" x2="330.5" y2="225.8" stroke-width="1.6"/>
<line x1="347.7" y1="219.8" x2="347.7" y2="223.4" stroke-width="1.6"/>
<line x1="357.8" y1="219.8" x2="357.8" y2="223.4" stroke-width="1.6"/>
<line x1="364.9" y1="219.8" x2="364.9" y2="223.4" stroke-width="1.6"/>
<line x1="370.5" y1="219.8" x2="370.5" y2="223.4" stroke-width="1.6"/>
<line x1="375.0" y1="219.8" x2="375.0" y2="223.4" stroke-width="1.6"/>
<line x1="378.8" y1="219.8" x2="378.8" y2="223.4" stroke-width="1.6"/>
<line x1="382.2" y1="219.8" x2="382.2" y2="223.4" stroke-width="1.6"/>
<line x1="385.1" y1="219.8" x2="385.1" y2="223.4" stroke-width="1.6"/>
<line x1="387.7" y1="219.8" x2="387.7" y2="225.8" stroke-width="1.6"/>
<line x1="404.9" y1="219.8" x2="404.9" y2="223.4" stroke-width="1.6"/>
<line x1="415.0" y1="219.8" x2="415.0" y2="223.4" stroke-width="1.6"/>
<line x1="422.1" y1="219.8" x2="422.1" y2="223.4" stroke-width="1.6"/>
<line x1="427.7" y1="219.8" x2="427.7" y2="223.4" stroke-width="1.6"/>
<line x1="432.2" y1="219.8" x2="432.2" y2="223.4" stroke-width="1.6"/>
<line x1="436.0" y1="219.8" x2="436.0" y2="223.4" stroke-width="1.6"/>
<line x1="439.4" y1="219.8" x2="439.4" y2="223.4" stroke-width="1.6"/>
<line x1="442.3" y1="219.8" x2="442.3" y2="223.4" stroke-width="1.6"/>
<line x1="444.9" y1="219.8" x2="444.9" y2="225.8" stroke-width="1.6"/>
<line x1="462.1" y1="219.8" x2="462.1" y2="223.4" stroke-width="1.6"/>
<line x1="472.2" y1="219.8" x2="472.2" y2="223.4" stroke-width="1.6"/>
<line x1="472.3" y1="219.3" x2="472.3" y2="223.4" stroke-width="1.6"/>
<text x="261.7" y="236.1" class="tl" >1Ø</text>
<text x="278.3" y="232.0" class="ts" >0</text>
<text x="318.9" y="236.1" class="tl" >1Ø</text>
<text x="335.5" y="232.0" class="ts" >1</text>
<text x="376.1" y="236.1" class="tl" >1Ø</text>
<text x="392.7" y="232.0" class="ts" >2</text>
<text x="433.3" y="236.1" class="tl" >1Ø</text>
<text x="449.9" y="232.0" class="ts" >3</text>
<text class="tl" style="font-size:14px" text-anchor="middle" transform="translate(269.3,219.8) rotate(-90)" y="0">Ø</text>
<text class="tl" style="font-size:14px" text-anchor="middle" transform="translate(269.5,130.1) rotate(-90)" y="0">5Ø</text>
<text class="tl" style="font-size:14px" text-anchor="middle" transform="translate(269.6,44.9) rotate(-90)" y="0">1ØØ</text>
<line x1="46.3" y1="435.0" x2="48.6" y2="253.9" stroke-width="2.0"/>
<line x1="45.6" y1="254.4" x2="49.1" y2="254.4" stroke-width="1.6"/>
<line x1="42.8" y1="434.0" x2="46.3" y2="434.0" stroke-width="1.5"/>
<line x1="44.0" y1="416.0" x2="46.5" y2="416.0" stroke-width="1.5"/>
<line x1="44.3" y1="398.1" x2="46.8" y2="398.1" stroke-width="1.5"/>
<line x1="44.5" y1="380.1" x2="47.0" y2="380.1" stroke-width="1.5"/>
<line x1="44.7" y1="362.2" x2="47.2" y2="362.2" stroke-width="1.5"/>
<line x1="44.0" y1="344.2" x2="47.5" y2="344.2" stroke-width="1.5"/>
<line x1="45.2" y1="326.2" x2="47.7" y2="326.2" stroke-width="1.5"/>
<line x1="45.4" y1="308.3" x2="47.9" y2="308.3" stroke-width="1.5"/>
<line x1="45.6" y1="290.3" x2="48.1" y2="290.3" stroke-width="1.5"/>
<line x1="45.9" y1="272.4" x2="48.4" y2="272.4" stroke-width="1.5"/>
<line x1="45.1" y1="254.4" x2="48.6" y2="254.4" stroke-width="1.5"/>
<line x1="45.3" y1="434.0" x2="245.9" y2="434.0" stroke-width="2.0"/>
<line x1="46.3" y1="434.0" x2="46.3" y2="440.0" stroke-width="1.6"/>
<line x1="63.7" y1="434.0" x2="63.7" y2="437.6" stroke-width="1.6"/>
<line x1="73.9" y1="434.0" x2="73.9" y2="437.6" stroke-width="1.6"/>
<line x1="81.1" y1="434.0" x2="81.1" y2="437.6" stroke-width="1.6"/>
<line x1="86.7" y1="434.0" x2="86.7" y2="437.6" stroke-width="1.6"/>
<line x1="91.3" y1="434.0" x2="91.3" y2="437.6" stroke-width="1.6"/>
<line x1="95.1" y1="434.0" x2="95.1" y2="437.6" stroke-width="1.6"/>
<line x1="98.5" y1="434.0" x2="98.5" y2="437.6" stroke-width="1.6"/>
<line x1="101.5" y1="434.0" x2="101.5" y2="437.6" stroke-width="1.6"/>
<line x1="104.1" y1="434.0" x2="104.1" y2="440.0" stroke-width="1.6"/>
<line x1="121.5" y1="434.0" x2="121.5" y2="437.6" stroke-width="1.6"/>
<line x1="131.7" y1="434.0" x2="131.7" y2="437.6" stroke-width="1.6"/>
<line x1="138.9" y1="434.0" x2="138.9" y2="437.6" stroke-width="1.6"/>
<line x1="144.5" y1="434.0" x2="144.5" y2="437.6" stroke-width="1.6"/>
<line x1="149.1" y1="434.0" x2="149.1" y2="437.6" stroke-width="1.6"/>
<line x1="152.9" y1="434.0" x2="152.9" y2="437.6" stroke-width="1.6"/>
<line x1="156.3" y1="434.0" x2="156.3" y2="437.6" stroke-width="1.6"/>
<line x1="159.3" y1="434.0" x2="159.3" y2="437.6" stroke-width="1.6"/>
<line x1="161.9" y1="434.0" x2="161.9" y2="440.0" stroke-width="1.6"/>
<line x1="179.3" y1="434.0" x2="179.3" y2="437.6" stroke-width="1.6"/>
<line x1="189.5" y1="434.0" x2="189.5" y2="437.6" stroke-width="1.6"/>
<line x1="196.7" y1="434.0" x2="196.7" y2="437.6" stroke-width="1.6"/>
<line x1="202.3" y1="434.0" x2="202.3" y2="437.6" stroke-width="1.6"/>
<line x1="206.9" y1="434.0" x2="206.9" y2="437.6" stroke-width="1.6"/>
<line x1="210.7" y1="434.0" x2="210.7" y2="437.6" stroke-width="1.6"/>
<line x1="214.1" y1="434.0" x2="214.1" y2="437.6" stroke-width="1.6"/>
<line x1="217.1" y1="434.0" x2="217.1" y2="437.6" stroke-width="1.6"/>
<line x1="219.7" y1="434.0" x2="219.7" y2="440.0" stroke-width="1.6"/>
<line x1="237.1" y1="434.0" x2="237.1" y2="437.6" stroke-width="1.6"/>
<line x1="245.1" y1="433.5" x2="245.1" y2="437.6" stroke-width="1.6"/>
<text x="34.7" y="450.3" class="tl" >1Ø</text>
<text x="51.3" y="446.2" class="ts" >0</text>
<text x="92.5" y="450.3" class="tl" >1Ø</text>
<text x="109.1" y="446.2" class="ts" >1</text>
<text x="150.3" y="450.3" class="tl" >1Ø</text>
<text x="166.9" y="446.2" class="ts" >2</text>
<text x="208.1" y="450.3" class="tl" >1Ø</text>
<text x="224.7" y="446.2" class="ts" >3</text>
<text class="tl" style="font-size:14.5px" text-anchor="middle" transform="translate(42.3,434.0) rotate(-90)" y="0">Ø</text>
<text class="tl" style="font-size:14.5px" text-anchor="middle" transform="translate(43.5,344.2) rotate(-90)" y="0">5Ø</text>
<text class="tl" style="font-size:14.5px" text-anchor="middle" transform="translate(44.6,258.9) rotate(-90)" y="0">1ØØ</text>
<line x1="269.8" y1="437.0" x2="269.2" y2="256.2" stroke-width="2.0"/>
<line x1="266.2" y1="256.7" x2="269.7" y2="256.7" stroke-width="1.6"/>
<line x1="266.3" y1="436.0" x2="269.8" y2="436.0" stroke-width="1.5"/>
<line x1="267.2" y1="418.1" x2="269.7" y2="418.1" stroke-width="1.5"/>
<line x1="267.2" y1="400.1" x2="269.7" y2="400.1" stroke-width="1.5"/>
<line x1="267.1" y1="382.2" x2="269.6" y2="382.2" stroke-width="1.5"/>
<line x1="267.1" y1="364.3" x2="269.6" y2="364.3" stroke-width="1.5"/>
<line x1="266.0" y1="346.4" x2="269.5" y2="346.4" stroke-width="1.5"/>
<line x1="266.9" y1="328.4" x2="269.4" y2="328.4" stroke-width="1.5"/>
<line x1="266.9" y1="310.5" x2="269.4" y2="310.5" stroke-width="1.5"/>
<line x1="266.8" y1="292.6" x2="269.3" y2="292.6" stroke-width="1.5"/>
<line x1="266.8" y1="274.6" x2="269.3" y2="274.6" stroke-width="1.5"/>
<line x1="265.7" y1="256.7" x2="269.2" y2="256.7" stroke-width="1.5"/>
<line x1="268.8" y1="436.0" x2="474.4" y2="436.0" stroke-width="2.0"/>
<line x1="269.8" y1="436.0" x2="269.8" y2="442.0" stroke-width="1.6"/>
<line x1="287.0" y1="436.0" x2="287.0" y2="439.6" stroke-width="1.6"/>
<line x1="297.1" y1="436.0" x2="297.1" y2="439.6" stroke-width="1.6"/>
<line x1="304.3" y1="436.0" x2="304.3" y2="439.6" stroke-width="1.6"/>
<line x1="309.9" y1="436.0" x2="309.9" y2="439.6" stroke-width="1.6"/>
<line x1="314.4" y1="436.0" x2="314.4" y2="439.6" stroke-width="1.6"/>
<line x1="318.2" y1="436.0" x2="318.2" y2="439.6" stroke-width="1.6"/>
<line x1="321.5" y1="436.0" x2="321.5" y2="439.6" stroke-width="1.6"/>
<line x1="324.5" y1="436.0" x2="324.5" y2="439.6" stroke-width="1.6"/>
<line x1="327.1" y1="436.0" x2="327.1" y2="442.0" stroke-width="1.6"/>
<line x1="344.3" y1="436.0" x2="344.3" y2="439.6" stroke-width="1.6"/>
<line x1="354.4" y1="436.0" x2="354.4" y2="439.6" stroke-width="1.6"/>
<line x1="361.6" y1="436.0" x2="361.6" y2="439.6" stroke-width="1.6"/>
<line x1="367.2" y1="436.0" x2="367.2" y2="439.6" stroke-width="1.6"/>
<line x1="371.7" y1="436.0" x2="371.7" y2="439.6" stroke-width="1.6"/>
<line x1="375.5" y1="436.0" x2="375.5" y2="439.6" stroke-width="1.6"/>
<line x1="378.8" y1="436.0" x2="378.8" y2="439.6" stroke-width="1.6"/>
<line x1="381.8" y1="436.0" x2="381.8" y2="439.6" stroke-width="1.6"/>
<line x1="384.4" y1="436.0" x2="384.4" y2="442.0" stroke-width="1.6"/>
<line x1="401.6" y1="436.0" x2="401.6" y2="439.6" stroke-width="1.6"/>
<line x1="411.7" y1="436.0" x2="411.7" y2="439.6" stroke-width="1.6"/>
<line x1="418.9" y1="436.0" x2="418.9" y2="439.6" stroke-width="1.6"/>
<line x1="424.5" y1="436.0" x2="424.5" y2="439.6" stroke-width="1.6"/>
<line x1="429.0" y1="436.0" x2="429.0" y2="439.6" stroke-width="1.6"/>
<line x1="432.8" y1="436.0" x2="432.8" y2="439.6" stroke-width="1.6"/>
<line x1="436.1" y1="436.0" x2="436.1" y2="439.6" stroke-width="1.6"/>
<line x1="439.1" y1="436.0" x2="439.1" y2="439.6" stroke-width="1.6"/>
<line x1="441.7" y1="436.0" x2="441.7" y2="442.0" stroke-width="1.6"/>
<line x1="458.9" y1="436.0" x2="458.9" y2="439.6" stroke-width="1.6"/>
<line x1="469.0" y1="436.0" x2="469.0" y2="439.6" stroke-width="1.6"/>
<line x1="473.6" y1="435.5" x2="473.6" y2="439.6" stroke-width="1.6"/>
<text x="258.2" y="452.3" class="tl" >1Ø</text>
<text x="274.8" y="448.2" class="ts" >0</text>
<text x="315.5" y="452.3" class="tl" >1Ø</text>
<text x="332.1" y="448.2" class="ts" >1</text>
<text x="372.8" y="452.3" class="tl" >1Ø</text>
<text x="389.4" y="448.2" class="ts" >2</text>
<text x="430.1" y="452.3" class="tl" >1Ø</text>
<text x="446.7" y="448.2" class="ts" >3</text>
<text class="tl" style="font-size:14.5px" text-anchor="middle" transform="translate(265.8,436.0) rotate(-90)" y="0">Ø</text>
<text class="tl" style="font-size:14.5px" text-anchor="middle" transform="translate(265.5,346.4) rotate(-90)" y="0">5Ø</text>
<text class="tl" style="font-size:14.5px" text-anchor="middle" transform="translate(265.2,261.2) rotate(-90)" y="0">1ØØ</text>
<line x1="44.6" y1="644.6" x2="46.1" y2="482.9" stroke-width="2.0"/>
<line x1="43.1" y1="483.4" x2="46.6" y2="483.4" stroke-width="1.6"/>
<line x1="41.1" y1="643.6" x2="44.6" y2="643.6" stroke-width="1.5"/>
<line x1="42.2" y1="627.6" x2="44.8" y2="627.6" stroke-width="1.5"/>
<line x1="42.4" y1="611.6" x2="44.9" y2="611.6" stroke-width="1.5"/>
<line x1="42.6" y1="595.5" x2="45.1" y2="595.5" stroke-width="1.5"/>
<line x1="42.7" y1="579.5" x2="45.2" y2="579.5" stroke-width="1.5"/>
<line x1="41.9" y1="563.5" x2="45.4" y2="563.5" stroke-width="1.5"/>
<line x1="43.0" y1="547.5" x2="45.5" y2="547.5" stroke-width="1.5"/>
<line x1="43.1" y1="531.5" x2="45.6" y2="531.5" stroke-width="1.5"/>
<line x1="43.3" y1="515.4" x2="45.8" y2="515.4" stroke-width="1.5"/>
<line x1="43.5" y1="499.4" x2="46.0" y2="499.4" stroke-width="1.5"/>
<line x1="42.6" y1="483.4" x2="46.1" y2="483.4" stroke-width="1.5"/>
<line x1="43.6" y1="643.6" x2="247.1" y2="643.6" stroke-width="2.0"/>
<line x1="44.6" y1="643.6" x2="44.6" y2="649.6" stroke-width="1.6"/>
<line x1="63.0" y1="643.6" x2="63.0" y2="647.2" stroke-width="1.6"/>
<line x1="73.8" y1="643.6" x2="73.8" y2="647.2" stroke-width="1.6"/>
<line x1="81.4" y1="643.6" x2="81.4" y2="647.2" stroke-width="1.6"/>
<line x1="87.4" y1="643.6" x2="87.4" y2="647.2" stroke-width="1.6"/>
<line x1="92.2" y1="643.6" x2="92.2" y2="647.2" stroke-width="1.6"/>
<line x1="96.3" y1="643.6" x2="96.3" y2="647.2" stroke-width="1.6"/>
<line x1="99.9" y1="643.6" x2="99.9" y2="647.2" stroke-width="1.6"/>
<line x1="103.0" y1="643.6" x2="103.0" y2="647.2" stroke-width="1.6"/>
<line x1="105.8" y1="643.6" x2="105.8" y2="649.6" stroke-width="1.6"/>
<line x1="124.2" y1="643.6" x2="124.2" y2="647.2" stroke-width="1.6"/>
<line x1="135.0" y1="643.6" x2="135.0" y2="647.2" stroke-width="1.6"/>
<line x1="142.6" y1="643.6" x2="142.6" y2="647.2" stroke-width="1.6"/>
<line x1="148.6" y1="643.6" x2="148.6" y2="647.2" stroke-width="1.6"/>
<line x1="153.4" y1="643.6" x2="153.4" y2="647.2" stroke-width="1.6"/>
<line x1="157.5" y1="643.6" x2="157.5" y2="647.2" stroke-width="1.6"/>
<line x1="161.1" y1="643.6" x2="161.1" y2="647.2" stroke-width="1.6"/>
<line x1="164.2" y1="643.6" x2="164.2" y2="647.2" stroke-width="1.6"/>
<line x1="167.0" y1="643.6" x2="167.0" y2="649.6" stroke-width="1.6"/>
<line x1="185.4" y1="643.6" x2="185.4" y2="647.2" stroke-width="1.6"/>
<line x1="196.2" y1="643.6" x2="196.2" y2="647.2" stroke-width="1.6"/>
<line x1="203.8" y1="643.6" x2="203.8" y2="647.2" stroke-width="1.6"/>
<line x1="209.8" y1="643.6" x2="209.8" y2="647.2" stroke-width="1.6"/>
<line x1="214.6" y1="643.6" x2="214.6" y2="647.2" stroke-width="1.6"/>
<line x1="218.7" y1="643.6" x2="218.7" y2="647.2" stroke-width="1.6"/>
<line x1="222.3" y1="643.6" x2="222.3" y2="647.2" stroke-width="1.6"/>
<line x1="225.4" y1="643.6" x2="225.4" y2="647.2" stroke-width="1.6"/>
<line x1="228.2" y1="643.6" x2="228.2" y2="649.6" stroke-width="1.6"/>
<line x1="246.6" y1="643.6" x2="246.6" y2="647.2" stroke-width="1.6"/>
<line x1="246.3" y1="643.1" x2="246.3" y2="647.2" stroke-width="1.6"/>
<text x="33.0" y="659.9" class="tl" >1Ø</text>
<text x="49.6" y="655.8" class="ts" >0</text>
<text x="94.2" y="659.9" class="tl" >1Ø</text>
<text x="110.8" y="655.8" class="ts" >1</text>
<text x="155.4" y="659.9" class="tl" >1Ø</text>
<text x="172.0" y="655.8" class="ts" >2</text>
<text x="216.6" y="659.9" class="tl" >1Ø</text>
<text x="233.2" y="655.8" class="ts" >3</text>
<text class="tl" style="font-size:15px" text-anchor="middle" transform="translate(40.6,643.6) rotate(-90)" y="0">Ø</text>
<text class="tl" style="font-size:15px" text-anchor="middle" transform="translate(41.4,563.5) rotate(-90)" y="0">5Ø</text>
<text class="tl" style="font-size:15px" text-anchor="middle" transform="translate(42.1,487.9) rotate(-90)" y="0">1ØØ</text>
<line x1="271.7" y1="646.2" x2="271.6" y2="466.2" stroke-width="2.0"/>
<line x1="268.6" y1="466.7" x2="272.1" y2="466.7" stroke-width="1.6"/>
<line x1="268.2" y1="645.2" x2="271.7" y2="645.2" stroke-width="1.5"/>
<line x1="269.2" y1="627.4" x2="271.7" y2="627.4" stroke-width="1.5"/>
<line x1="269.2" y1="609.5" x2="271.7" y2="609.5" stroke-width="1.5"/>
<line x1="269.2" y1="591.6" x2="271.7" y2="591.6" stroke-width="1.5"/>
<line x1="269.2" y1="573.8" x2="271.7" y2="573.8" stroke-width="1.5"/>
<line x1="268.1" y1="556.0" x2="271.6" y2="556.0" stroke-width="1.5"/>
<line x1="269.1" y1="538.1" x2="271.6" y2="538.1" stroke-width="1.5"/>
<line x1="269.1" y1="520.2" x2="271.6" y2="520.2" stroke-width="1.5"/>
<line x1="269.1" y1="502.4" x2="271.6" y2="502.4" stroke-width="1.5"/>
<line x1="269.1" y1="484.6" x2="271.6" y2="484.6" stroke-width="1.5"/>
<line x1="268.1" y1="466.7" x2="271.6" y2="466.7" stroke-width="1.5"/>
<line x1="270.7" y1="645.2" x2="468.1" y2="645.2" stroke-width="2.0"/>
<line x1="271.7" y1="645.2" x2="271.7" y2="651.2" stroke-width="1.6"/>
<line x1="288.9" y1="645.2" x2="288.9" y2="648.8" stroke-width="1.6"/>
<line x1="298.9" y1="645.2" x2="298.9" y2="648.8" stroke-width="1.6"/>
<line x1="306.1" y1="645.2" x2="306.1" y2="648.8" stroke-width="1.6"/>
<line x1="311.6" y1="645.2" x2="311.6" y2="648.8" stroke-width="1.6"/>
<line x1="316.1" y1="645.2" x2="316.1" y2="648.8" stroke-width="1.6"/>
<line x1="320.0" y1="645.2" x2="320.0" y2="648.8" stroke-width="1.6"/>
<line x1="323.3" y1="645.2" x2="323.3" y2="648.8" stroke-width="1.6"/>
<line x1="326.2" y1="645.2" x2="326.2" y2="648.8" stroke-width="1.6"/>
<line x1="328.8" y1="645.2" x2="328.8" y2="651.2" stroke-width="1.6"/>
<line x1="346.0" y1="645.2" x2="346.0" y2="648.8" stroke-width="1.6"/>
<line x1="356.0" y1="645.2" x2="356.0" y2="648.8" stroke-width="1.6"/>
<line x1="363.2" y1="645.2" x2="363.2" y2="648.8" stroke-width="1.6"/>
<line x1="368.7" y1="645.2" x2="368.7" y2="648.8" stroke-width="1.6"/>
<line x1="373.2" y1="645.2" x2="373.2" y2="648.8" stroke-width="1.6"/>
<line x1="377.1" y1="645.2" x2="377.1" y2="648.8" stroke-width="1.6"/>
<line x1="380.4" y1="645.2" x2="380.4" y2="648.8" stroke-width="1.6"/>
<line x1="383.3" y1="645.2" x2="383.3" y2="648.8" stroke-width="1.6"/>
<line x1="385.9" y1="645.2" x2="385.9" y2="651.2" stroke-width="1.6"/>
<line x1="403.1" y1="645.2" x2="403.1" y2="648.8" stroke-width="1.6"/>
<line x1="413.1" y1="645.2" x2="413.1" y2="648.8" stroke-width="1.6"/>
<line x1="420.3" y1="645.2" x2="420.3" y2="648.8" stroke-width="1.6"/>
<line x1="425.8" y1="645.2" x2="425.8" y2="648.8" stroke-width="1.6"/>
<line x1="430.3" y1="645.2" x2="430.3" y2="648.8" stroke-width="1.6"/>
<line x1="434.2" y1="645.2" x2="434.2" y2="648.8" stroke-width="1.6"/>
<line x1="437.5" y1="645.2" x2="437.5" y2="648.8" stroke-width="1.6"/>
<line x1="440.4" y1="645.2" x2="440.4" y2="648.8" stroke-width="1.6"/>
<line x1="443.0" y1="645.2" x2="443.0" y2="651.2" stroke-width="1.6"/>
<line x1="460.2" y1="645.2" x2="460.2" y2="648.8" stroke-width="1.6"/>
<line x1="467.3" y1="644.7" x2="467.3" y2="648.8" stroke-width="1.6"/>
<text x="260.1" y="661.5" class="tl" >1Ø</text>
<text x="276.7" y="657.4" class="ts" >0</text>
<text x="317.2" y="661.5" class="tl" >1Ø</text>
<text x="333.8" y="657.4" class="ts" >1</text>
<text x="374.3" y="661.5" class="tl" >1Ø</text>
<text x="390.9" y="657.4" class="ts" >2</text>
<text x="431.4" y="661.5" class="tl" >1Ø</text>
<text x="448.0" y="657.4" class="ts" >3</text>
<text class="tl" style="font-size:15px" text-anchor="middle" transform="translate(267.7,645.2) rotate(-90)" y="0">Ø</text>
<text class="tl" style="font-size:15px" text-anchor="middle" transform="translate(267.6,556.0) rotate(-90)" y="0">5Ø</text>
<text class="tl" style="font-size:15px" text-anchor="middle" transform="translate(267.6,471.2) rotate(-90)" y="0">1ØØ</text>
</g>
<text class="big" x="52.5" y="22">Control</text>
<text class="big" x="279.5" y="22">CD9-Transfected</text>
<text class="big" x="457.5" y="126.6" style="font-size:28.8px">RLO</text>
<text class="big" x="457.5" y="350.4" style="font-size:28.8px">MER</text>
<text class="big" x="457.5" y="566.6" style="font-size:28.8px">COL</text>
<text class="lab" transform="translate(22.9,422.3) rotate(-90)">Cell number</text>
<text class="lab" x="90.7" y="687.4" style="font-size:27.8px">Fluorescence intensity</text>
</svg>
</body></html>
